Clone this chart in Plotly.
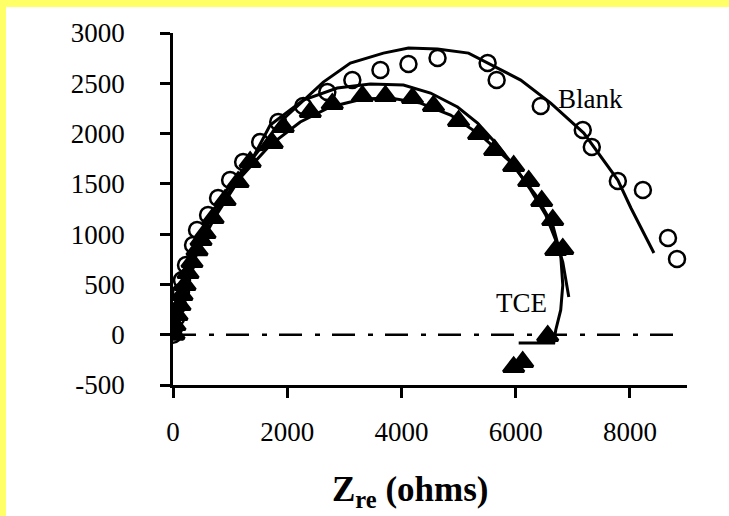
import plotly.graph_objects as go

# ---- data ----
blank_x = [0, 18, 53, 88, 140, 158, 228, 351, 421, 614, 789, 1000, 1228, 1526, 1842, 2281, 2702,
           3140, 3632, 4123, 4632, 5509, 5667, 6439, 7175, 7333, 7789, 8228, 8667, 8825]
blank_y = [0, 67, 166, 295, 425, 544, 693, 892, 1041, 1190, 1360, 1539, 1718, 1916, 2115, 2274, 2413,
           2532, 2632, 2691, 2751, 2701, 2532, 2274, 2035, 1866, 1528, 1439, 962, 753]

blank_fit_x = [0, 53, 175, 351, 632, 1000, 1439, 1877, 2632, 3105, 3684, 4123, 4632, 5175, 6088,
               6614, 7193, 7789, 8018, 8421]
blank_fit_y = [0, 166, 445, 743, 1170, 1488, 1786, 2115, 2512, 2701, 2800, 2850, 2840, 2800, 2532,
               2303, 2005, 1538, 1260, 813]

tce_x = [0, 18, 35, 70, 123, 158, 211, 263, 333, 421, 491, 561, 702, 912, 1140, 1351, 1737, 1930,
         2404, 2789, 3316, 3719, 4193, 4561, 5000, 5351, 5632, 5965, 6228, 6456, 6649, 6702, 6825,
         6561, 6123, 5965]
tce_y = [0, 7, 96, 196, 295, 395, 494, 613, 722, 841, 941, 1011, 1160, 1339, 1518, 1717, 1906, 2065,
         2214, 2294, 2373, 2373, 2353, 2274, 2125, 1995, 1836, 1677, 1528, 1329, 1140, 842, 852,
         -13, -272, -322]

tce_fit1_x = [0, 88, 211, 386, 649, 1000, 1351, 1702, 2281, 2877, 3456, 4035, 4509, 4982, 5333,
              5649, 6000, 6263, 6526, 6702, 6825, 6930]
tce_fit1_y = [0, 246, 494, 792, 1140, 1439, 1708, 2085, 2334, 2453, 2493, 2483, 2403, 2264, 2105,
              1906, 1657, 1439, 1190, 941, 722, 374]

tce_fit2_x = [0, 53, 211, 474, 737, 1175, 1702, 2228, 2754, 3316, 3807, 4333, 4860, 5386, 5912,
              6351, 6649, 6789, 6825, 6789, 6702, 6667, 6053]
tce_fit2_y = [0, 146, 494, 892, 1170, 1558, 1886, 2115, 2264, 2343, 2353, 2303, 2184, 1985, 1717,
              1389, 1091, 792, 494, 246, 47, -83, -83]

zero_x = [0, 8800]
zero_y = [0, 0]

x_ticks = [0, 2000, 4000, 6000, 8000]
y_ticks = [-500, 0, 500, 1000, 1500, 2000, 2500, 3000]

FONT = "Liberation Serif, Times New Roman, serif"
YELLOW = "#FFFF66"

fig = go.Figure()

fig.add_trace(go.Scatter(x=zero_x, y=zero_y, mode="lines",
                         line=dict(color="black", width=2.5, dash="23px,13px,5px,12px"),
                         showlegend=False, hoverinfo="skip"))
fig.add_trace(go.Scatter(x=blank_fit_x, y=blank_fit_y, mode="lines",
                         line=dict(color="black", width=3), showlegend=False))
fig.add_trace(go.Scatter(x=tce_fit1_x, y=tce_fit1_y, mode="lines",
                         line=dict(color="black", width=3), showlegend=False))
fig.add_trace(go.Scatter(x=tce_fit2_x, y=tce_fit2_y, mode="lines",
                         line=dict(color="black", width=3), showlegend=False))
fig.add_trace(go.Scatter(x=blank_x, y=blank_y, mode="markers", name="Blank",
                         marker=dict(symbol="circle-open", size=16, color="black",
                                     line=dict(color="black", width=2.5)),
                         showlegend=False))
fig.add_trace(go.Scatter(x=tce_x, y=tce_y, mode="markers", name="TCE",
                         marker=dict(symbol="triangle-up", size=18, color="black",
                                     line=dict(color="black", width=3)),
                         showlegend=False))

# white panel over yellow page
fig.add_shape(type="rect", xref="paper", yref="paper",
              x0=(6 - 173) / 514, x1=(740 - 173) / 514,
              y0=(385 - 530) / 352, y1=(385 - 7) / 352,
              fillcolor="white", line=dict(width=0), layer="below")

fig.add_annotation(x=7316, y=2346, xref="x", yref="y", text="Blank", showarrow=False,
                   font=dict(family=FONT, size=27, color="black"))
fig.add_annotation(x=6105, y=315, xref="x", yref="y", text="TCE", showarrow=False,
                   font=dict(family=FONT, size=27, color="black"))
fig.add_annotation(x=(410 - 173) / 514, y=(385 - 491) / 352, xref="paper", yref="paper",
                   text="<b>Z<sub>re</sub>\u00a0(ohms)</b>", showarrow=False,
                   xanchor="center", yanchor="middle",
                   font=dict(family=FONT, size=35, color="black"))

fig.update_xaxes(range=[0, 9000], tickvals=x_ticks, ticktext=[str(v) for v in x_ticks],
                 showgrid=False, zeroline=False, showline=True, linecolor="black", linewidth=2.5,
                 ticks="outside", ticklen=10, tickwidth=2.5, tickcolor="black",
                 ticklabelstandoff=11,
                 tickfont=dict(family=FONT, size=27, color="black"))
fig.update_yaxes(range=[-500, 3000], tickvals=y_ticks, ticktext=[str(v) for v in y_ticks],
                 showgrid=False, zeroline=False, showline=True, linecolor="black", linewidth=2.5,
                 ticks="outside", ticklen=10, tickwidth=2.5, tickcolor="black",
                 ticklabelstandoff=30,
                 tickfont=dict(family=FONT, size=27, color="black"))

fig.update_layout(width=729, height=516,
                  margin=dict(l=173, r=42, t=33, b=131, pad=0),
                  paper_bgcolor=YELLOW, plot_bgcolor="white",
                  showlegend=False)

fig.write_html("out.html", config={"displayModeBar": False},
               post_script="document.body.style.margin='0';document.body.style.overflow='hidden';")
